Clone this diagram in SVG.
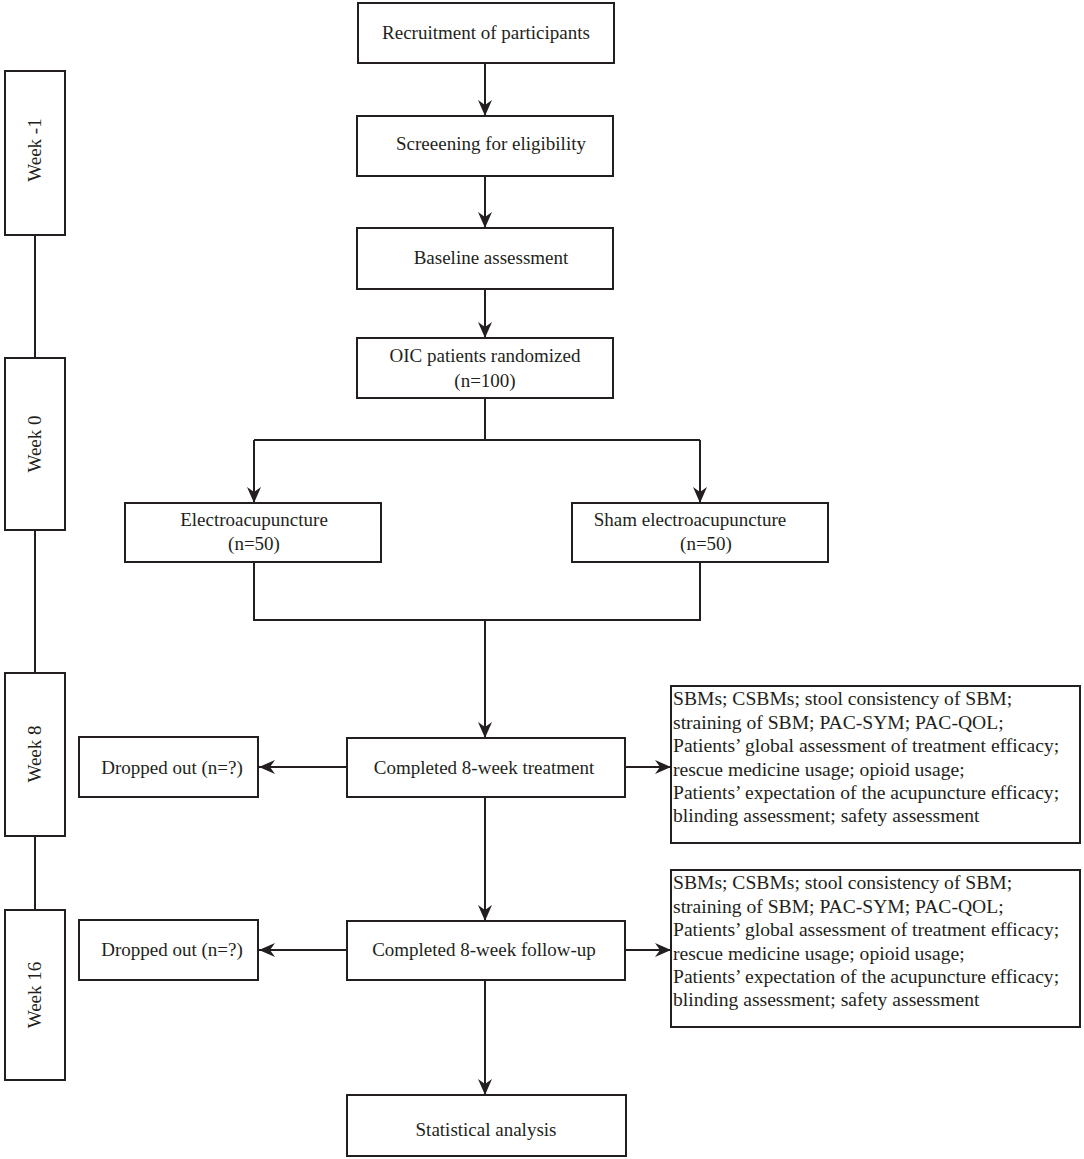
<svg xmlns="http://www.w3.org/2000/svg" width="1084" height="1159" viewBox="0 0 1084 1159">
<style>
.box{fill:#fff;stroke:#231f20;stroke-width:2}
.ln{fill:none;stroke:#231f20;stroke-width:2}
text{font-family:"Liberation Serif","Times New Roman",serif;font-size:19px;fill:#231f20}
.c{text-anchor:middle}
.o{font-size:19.6px}
</style>
<defs>
<marker id="ah" viewBox="0 0 16 14" refX="16" refY="7" markerWidth="16" markerHeight="14" markerUnits="userSpaceOnUse" orient="auto">
<path d="M0,0 L16,7 L0,14 L5,7 Z" fill="#231f20"/>
</marker>
</defs>
<rect width="1084" height="1159" fill="#fff"/>
<g id="connectors">
<line class="ln" x1="485" y1="63" x2="485" y2="116" marker-end="url(#ah)"/>
<line class="ln" x1="485" y1="176" x2="485" y2="228" marker-end="url(#ah)"/>
<line class="ln" x1="485" y1="289" x2="485" y2="338" marker-end="url(#ah)"/>
<polyline class="ln" points="485,398 485,440"/>
<polyline class="ln" points="254,440 700,440"/>
<line class="ln" x1="254" y1="440" x2="254" y2="503" marker-end="url(#ah)"/>
<line class="ln" x1="700" y1="440" x2="700" y2="503" marker-end="url(#ah)"/>
<polyline class="ln" points="254,562 254,620 700,620 700,562"/>
<line class="ln" x1="485" y1="620" x2="485" y2="738" marker-end="url(#ah)"/>
<line class="ln" x1="347" y1="767" x2="259" y2="767" marker-end="url(#ah)"/>
<line class="ln" x1="625" y1="767" x2="671" y2="767" marker-end="url(#ah)"/>
<line class="ln" x1="485" y1="797" x2="485" y2="921" marker-end="url(#ah)"/>
<line class="ln" x1="347" y1="950" x2="259" y2="950" marker-end="url(#ah)"/>
<line class="ln" x1="625" y1="950" x2="671" y2="950" marker-end="url(#ah)"/>
<line class="ln" x1="485" y1="980" x2="485" y2="1095" marker-end="url(#ah)"/>
<line class="ln" x1="35" y1="235" x2="35" y2="358"/>
<line class="ln" x1="35" y1="530" x2="35" y2="673"/>
<line class="ln" x1="35" y1="836" x2="35" y2="910"/>
</g>
<g id="week-1"><rect class="box" x="5" y="71" width="60" height="164"/><text class="c" transform="translate(41,150) rotate(-90)">Week -1</text></g>
<g id="week0"><rect class="box" x="5" y="358" width="60" height="172"/><text class="c" transform="translate(41,444) rotate(-90)">Week 0</text></g>
<g id="week8"><rect class="box" x="5" y="673" width="60" height="163"/><text class="c" transform="translate(41,754) rotate(-90)">Week 8</text></g>
<g id="week16"><rect class="box" x="5" y="910" width="60" height="170"/><text class="c" transform="translate(41,995) rotate(-90)">Week 16</text></g>
<g id="recruitment"><rect class="box" x="358" y="3" width="256" height="60"/><text class="c" x="486" y="39">Recruitment of participants</text></g>
<g id="screening"><rect class="box" x="357" y="116" width="256" height="60"/><text class="c" x="491" y="150">Screeening for eligibility</text></g>
<g id="baseline"><rect class="box" x="357" y="228" width="256" height="61"/><text class="c" x="491" y="264">Baseline assessment</text></g>
<g id="randomized"><rect class="box" x="357" y="338" width="256" height="60"/><text class="c" x="485" y="362">OIC patients randomized</text><text class="c" x="485" y="387">(n=100)</text></g>
<g id="ea"><rect class="box" x="125" y="503" width="256" height="59"/><text class="c" x="254" y="526">Electroacupuncture</text><text class="c" x="254" y="550">(n=50)</text></g>
<g id="sham"><rect class="box" x="572" y="503" width="256" height="59"/><text class="c" x="690" y="526">Sham electroacupuncture</text><text class="c" x="706" y="550">(n=50)</text></g>
<g id="completed-treatment"><rect class="box" x="347" y="738" width="278" height="59"/><text class="c" x="484" y="774">Completed 8-week treatment</text></g>
<g id="dropped1"><rect class="box" x="79" y="737" width="179" height="60"/><text class="c" x="172" y="774">Dropped out (n=?)</text></g>
<g id="outcomes1"><rect class="box" x="671" y="686" width="409" height="157"/>
<text class="o" x="673" y="705">SBMs; CSBMs; stool consistency of SBM;</text>
<text class="o" x="673" y="729">straining of SBM; PAC-SYM; PAC-QOL;</text>
<text class="o" x="673" y="752">Patients’ global assessment of treatment efficacy;</text>
<text class="o" x="673" y="776">rescue medicine usage; opioid usage;</text>
<text class="o" x="673" y="799">Patients’ expectation of the acupuncture efficacy;</text>
<text class="o" x="673" y="822">blinding assessment; safety assessment</text>
</g>
<g id="completed-followup"><rect class="box" x="347" y="921" width="278" height="59"/><text class="c" x="484" y="956">Completed 8-week follow-up</text></g>
<g id="dropped2"><rect class="box" x="79" y="920" width="179" height="60"/><text class="c" x="172" y="956">Dropped out (n=?)</text></g>
<g id="outcomes2"><rect class="box" x="671" y="870" width="409" height="157"/>
<text class="o" x="673" y="889">SBMs; CSBMs; stool consistency of SBM;</text>
<text class="o" x="673" y="913">straining of SBM; PAC-SYM; PAC-QOL;</text>
<text class="o" x="673" y="936">Patients’ global assessment of treatment efficacy;</text>
<text class="o" x="673" y="960">rescue medicine usage; opioid usage;</text>
<text class="o" x="673" y="983">Patients’ expectation of the acupuncture efficacy;</text>
<text class="o" x="673" y="1006">blinding assessment; safety assessment</text>
</g>
<g id="statistical"><rect class="box" x="347" y="1095" width="279" height="61"/><text class="c" x="486" y="1136">Statistical analysis</text></g>
</svg>
